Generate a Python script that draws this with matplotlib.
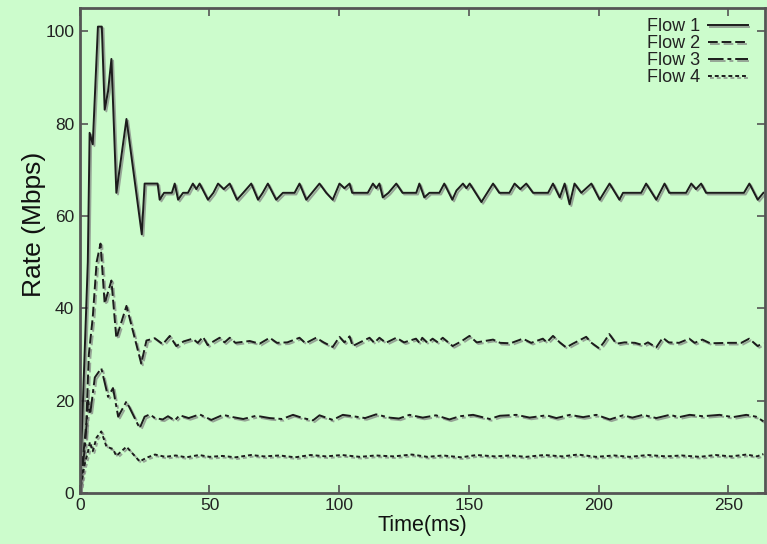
import matplotlib
matplotlib.use("Agg")
import matplotlib.pyplot as plt
import matplotlib.patheffects as pe

# flow 1 (solid)
t1 = [0, 3.1, 3.8, 5.0, 7.0, 8.5, 9.6, 10.9, 12.2, 14.1, 18.0, 23.9, 25.0, 30.0, 30.8, 32.5,
      35.5, 36.6, 37.9, 39.8, 41.7, 43.6, 44.9, 46.2, 49.4, 51.5, 53.3, 55.5, 57.8, 60.6,
      63.0, 66.1, 68.7, 70.5, 72.5, 75.7, 78.3, 82.8, 84.7, 87.3, 89.5, 92.4, 95.0, 97.5,
      100.1, 102, 104, 105, 111, 113, 114.3, 115.5, 116.8, 119, 122, 124.4, 129.7, 130.9,
      132.8, 134.8, 138.6, 140.5, 143.6, 145.2, 147.7, 149, 150.3, 154.8, 159.3, 161.7,
      165.6, 167.6, 169.8, 172.1, 174.7, 180.5, 182.4, 185, 186.9, 188.8, 190.7, 193.3,
      197.2, 200.4, 204.2, 208, 209.4, 216.4, 218.3, 222.2, 225.4, 227.2, 233.7, 235.7,
      237.5, 239.5, 241.4, 256, 258.1, 261.3, 263.5]
r1 = [0, 50, 78, 75.5, 101, 101, 83, 87, 94, 65, 81, 56, 67, 67, 63.5, 65,
      65, 67, 63.5, 65, 65, 67, 65.8, 67, 63.5, 65, 67, 65.8, 67, 63.5,
      65, 67, 63.5, 65, 67, 63.5, 65, 65, 67, 63.5, 65, 67, 65, 63.5,
      67, 66, 67, 65, 65, 67, 66, 67, 64, 65, 67, 65, 65, 67,
      64, 65, 65, 67, 63.5, 65.5, 67, 66, 67, 63, 67, 65,
      65, 67, 65.8, 67, 65, 65, 67, 64, 67, 62.5, 67, 65,
      67, 63.5, 67, 63.5, 65, 65, 67, 63.5, 67, 65, 65, 67,
      65.8, 67, 65, 65, 67, 63.5, 65]

# flow 2 (dashed)
t2 = [0, 2.5, 3.5, 5.0, 6.5, 8.0, 9.6, 12.2, 14.1, 18.0, 23.7, 25.7, 28.9, 32.0,
      34.7, 37.2, 40, 43.5, 45.5, 47.5, 49.3, 51.5, 53.9, 55.8, 57.8, 60, 65.5, 69.3,
      73.2, 76, 80, 84.7, 87, 91.1, 94, 97.5, 100.1, 102, 104, 105.2, 108, 111.7, 113.5,
      115.5, 118, 122, 125, 129.6, 131, 132, 134, 136, 138, 139.9, 143.7, 147, 150.2,
      153, 159.3, 162, 166, 170.8, 174, 178.5, 180, 182.4, 185, 187.5, 190, 195.2, 197,
      200.2, 202, 204.1, 206.8, 210, 214, 217, 219, 222.2, 224.7, 227, 231, 234.9, 237,
      240, 243, 250, 255, 258, 261.3, 263.5]
r2 = [0, 15, 30, 38, 50, 54, 41, 46, 33.5, 40.5, 28, 33, 33.5, 32.2,
      34, 31.8, 32.8, 33.4, 32.5, 33.8, 32, 32.8, 33.6, 32.6, 33.6, 32.5, 32.9, 32.3,
      33.6, 32.5, 32.6, 33.6, 32.4, 33.6, 32.6, 31.6, 33.8, 32.6, 33.9, 31.8, 32.6, 33.6, 32.5,
      33.6, 32.5, 33.6, 32.6, 33.4, 32.4, 33.6, 32.5, 33.4, 32.6, 33.6, 31.8, 32.8, 34,
      32.6, 33.2, 32.5, 32.4, 33.4, 32.5, 33.4, 32.6, 34, 32.6, 31.5, 32.3, 33.8, 32.6,
      31.3, 32.6, 34.4, 32.3, 32.6, 32.5, 32.0, 32.6, 31.5, 33.6, 32.6, 32.5, 33.4, 32.5,
      33.2, 32.4, 32.5, 32.5, 33.4, 31.8, 32.5]

# flow 3 (dash-dot)
t3 = [0, 2.0, 3.2, 4.0, 5.8, 8.3, 10.9, 12.8, 14.8, 18.0, 23.1, 25, 27, 29, 32, 34,
      36.6, 38.5, 42, 46.2, 50.7, 55.2, 59.1, 63, 68, 73.2, 78, 82.2, 86, 89.9, 92.4,
      97.5, 101.4, 106.5, 110, 114.2, 119.4, 123, 127.1, 132.2, 137.3, 142.5, 146.5,
      151.6, 158, 161.9, 168.3, 173.4, 179.9, 183.7, 188.9, 194, 199.1, 204.3, 209.4,
      213, 217.1, 222.2, 227.4, 231, 235.1, 240.2, 246.6, 251.7, 256.9, 260.7, 263.5]
r3 = [0, 10, 20, 17, 25, 27, 20.8, 22.7, 16.5, 19.8, 14, 16.5, 17.0, 16.2, 15.9, 16.6,
      15.7, 16.8, 16.2, 17.0, 15.8, 16.9, 16.4, 16.0, 16.7, 16.2, 16.0, 16.9, 16.2, 15.7, 16.8,
      15.8, 16.9, 16.5, 16.2, 17.0, 16.3, 16.1, 16.9, 16.3, 16.8, 15.9, 16.6,
      16.9, 16.0, 16.7, 16.9, 16.3, 16.8, 16.2, 16.9, 16.4, 16.9, 15.9, 16.8,
      16.3, 16.9, 16.2, 16.9, 16.4, 16.9, 16.6, 16.9, 16.4, 16.9, 16.5, 15.5]

# flow 4 (dotted)
t4 = [0, 1.8, 3.2, 3.9, 5.0, 6.5, 8.3, 10.3, 12.8, 14.1, 18.0, 23.1, 25.7, 29, 33, 37,
      41, 46, 50, 55, 60, 66, 71, 77, 83, 89, 95, 101, 108, 114, 121, 128, 134, 140, 147,
      153, 160, 166, 172, 179, 186, 192, 199, 206, 212, 219, 226, 232, 239, 245, 251, 257,
      261, 263.5]
r4 = [0, 6, 9, 11, 9, 12, 13.3, 10, 9.5, 8, 10, 6.8, 7.6, 8.3, 7.8, 8.1,
      7.7, 8.2, 7.8, 8.0, 7.7, 8.2, 7.9, 8.1, 7.7, 8.2, 7.9, 8.2, 7.8, 8.1, 7.9, 8.3, 7.8, 8.1, 7.7,
      8.2, 7.9, 8.1, 7.8, 8.2, 7.9, 8.3, 7.8, 8.1, 7.8, 8.2, 7.9, 8.1, 7.8, 8.2, 7.9, 8.3,
      7.9, 8.4]

labels = ["Flow 1", "Flow 2", "Flow 3", "Flow 4"]
styles = ["-", (0, (5, 2)), (0, (8, 2, 2, 2)), (0, (2, 1.5))]

bg = "#ccfccc"
font = ["Liberation Sans", "DejaVu Sans"]

fig = plt.figure(figsize=(7.67, 5.44), dpi=100, facecolor=bg)
ax = fig.add_axes([0.104, 0.094, 0.893, 0.891], facecolor=bg)

shadow = [pe.SimpleLineShadow(offset=(1.2, -1.2), shadow_color="0.5", alpha=0.7), pe.Normal()]
for t, r, lab, ls in zip([t1, t2, t3, t4], [r1, r2, r3, r4], labels, styles):
    ax.plot(t, r, color="#1c1c1c", linestyle=ls, linewidth=1.4, label=lab,
            path_effects=shadow)

ax.set_xlim(0, 264)
ax.set_ylim(0, 105)
ax.set_xticks([0, 50, 100, 150, 200, 250])
ax.set_yticks([0, 20, 40, 60, 80, 100])

for s in ax.spines.values():
    s.set_color("#555555")
    s.set_linewidth(2)
ax.tick_params(direction="in", length=6, width=1.2, color="#555555",
               top=True, right=True, labelsize=12.5, labelcolor="#222222", pad=4)
for lbl in ax.get_xticklabels() + ax.get_yticklabels():
    lbl.set_family(font)

ax.set_xlabel("Time(ms)", fontsize=15.5, family=font, labelpad=1, color="#111111")
ax.set_ylabel("Rate (Mbps)", fontsize=19, family=font, color="#111111")
ax.yaxis.set_label_coords(-0.05, 0.554)

leg = ax.legend(loc="upper right", frameon=False, markerfirst=False,
                prop={"family": font, "size": 13},
                labelspacing=0.0, handlelength=2.2, handletextpad=0.45,
                borderpad=0, borderaxespad=0, bbox_to_anchor=(0.975, 0.979))
for txt in leg.get_texts():
    txt.set_color("#222222")

fig.savefig("out.png", dpi=100, facecolor=bg)
